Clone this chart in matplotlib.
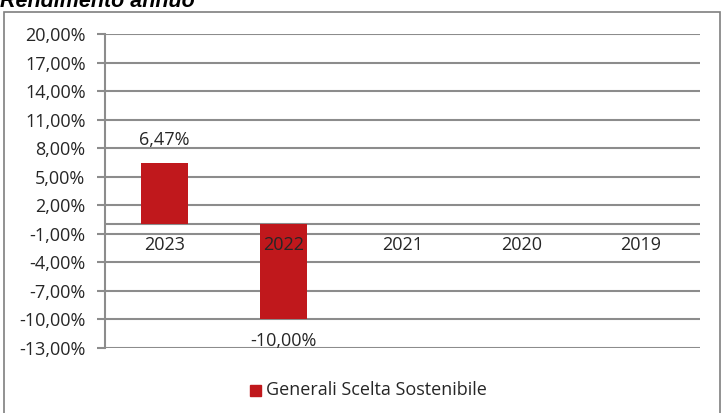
import numpy as np
import matplotlib
matplotlib.use('Agg')
import matplotlib.pyplot as plt
from matplotlib.patches import Rectangle

years = ['2023', '2022', '2021', '2020', '2019']
returns = [6.47, -10.00, np.nan, np.nan, np.nan]
yticks = [20, 17, 14, 11, 8, 5, 2, -1, -4, -7, -10, -13]
series_name = 'Generali Scelta Sostenibile'
title = 'Rendimento annuo'

bar_color = '#C0181C'
grid_color = '#8C8C8C'
txt_color = '#262626'
plt.rcParams['font.family'] = ['Open Sans', 'DejaVu Sans']


def fmt(v):
    return f'{v:.2f}%'.replace('.', ',')


fig = plt.figure(figsize=(7.24, 4.13), dpi=100)
fig.patch.set_facecolor('white')

# outer frame of the chart object
fig.patches.append(Rectangle((4 / 724, -0.05), 716 / 724, 1 - 12 / 413 + 0.05,
                             transform=fig.transFigure, fill=False,
                             edgecolor='#7F7F7F', linewidth=1.2))
# title is cropped at the top edge in the source image
fig.text(0.0, 1 - 7 / 413, title, fontsize=15.5, fontstyle='italic',
         fontweight='bold', family='Liberation Sans', va='baseline', ha='left')

ax = fig.add_axes([105 / 724, 1 - 348 / 413, 595 / 724, 314 / 413])
x = np.arange(len(years))
ax.bar(x, returns, width=0.4, color=bar_color, zorder=3)

ax.set_xlim(-0.5, len(years) - 0.5)
ax.set_ylim(-13, 20)
ax.set_yticks(yticks)
ax.set_yticklabels([fmt(v) for v in yticks], fontsize=13, color=txt_color)
ax.tick_params(axis='y', length=6, width=1.5, color=grid_color, pad=8)
ax.set_xticks([])
for v in yticks:
    ax.axhline(v, color=grid_color, linewidth=1.5, zorder=1)
ax.axhline(0, color=grid_color, linewidth=1.5, zorder=2)
for s in ['top', 'right', 'bottom']:
    ax.spines[s].set_visible(False)
ax.spines['left'].set_color(grid_color)
ax.spines['left'].set_linewidth(1.5)

# category labels sit under the zero line
for i, y in enumerate(years):
    ax.text(i, -1.2, y, ha='center', va='top', fontsize=13, color=txt_color, zorder=4)

# data labels
for i, v in enumerate(returns):
    if np.isnan(v):
        continue
    if v >= 0:
        ax.text(i, v + 1.4, fmt(v), ha='center', va='bottom', fontsize=13, color=txt_color)
    else:
        ax.text(i, v - 1.3, fmt(v), ha='center', va='top', fontsize=13, color=txt_color)

# legend
fig.patches.append(Rectangle((250 / 724, 1 - 396 / 413), 11 / 724, 11 / 413,
                             transform=fig.transFigure, color=bar_color))
fig.text(266 / 724, 1 - 390 / 413, series_name, fontsize=13, color=txt_color,
         va='center', ha='left')

fig.savefig('out.png', dpi=100)
